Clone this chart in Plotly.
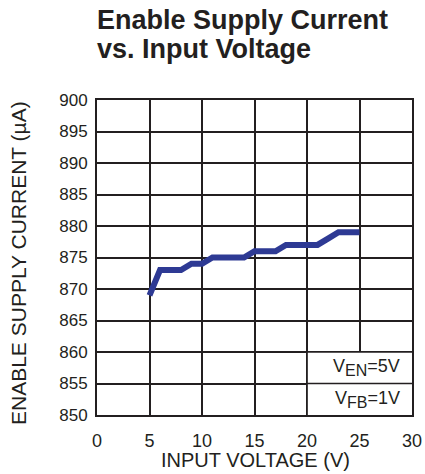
import plotly.graph_objects as go

# input voltage (V) and enable supply current (uA)
vin = [5, 6, 7, 8, 9, 10, 11, 12, 13, 14, 15, 16, 17, 18, 19, 20, 21, 22, 23, 24, 25]
i_en = [869, 873, 873, 873, 874, 874, 875, 875, 875, 875, 876, 876, 876,
        877, 877, 877, 877, 878, 879, 879, 879]

x_ticks = [0, 5, 10, 15, 20, 25, 30]
y_ticks = [850, 855, 860, 865, 870, 875, 880, 885, 890, 895, 900]

INK = '#231F20'
FONT = 'Liberation Sans, Arial, sans-serif'

W, H = 425, 474
L, R, T, B = 97, 13, 100, 59
pw, ph = W - L - R, H - T - B

fig = go.Figure(
    go.Scatter(
        x=vin, y=i_en,
        mode='lines',
        line=dict(color='#2E3A94', width=6),
        showlegend=False,
        hoverinfo='skip'
    )
)

# white patch behind the condition labels (hides part of the grid)
fig.add_shape(type='rect', x0=20.08, x1=30, y0=850, y1=859.9,
              xref='x', yref='y', layer='between',
              fillcolor='white', line_width=0)
fig.add_shape(type='line', x0=20, x1=30, y0=855, y1=855,
              xref='x', yref='y', layer='between',
              line=dict(color=INK, width=1.5))

sub = '<sub><span style="font-size:16px">{}</span></sub>'
fig.add_annotation(text='V' + sub.format('EN') + '=5V', x=29.05, y=857.5, xref='x', yref='y',
                   xanchor='right', yanchor='middle', showarrow=False,
                   font=dict(size=18, color=INK, family=FONT))
fig.add_annotation(text='V' + sub.format('FB') + '=1V', x=29.05, y=852.5, xref='x', yref='y',
                   xanchor='right', yanchor='middle', showarrow=False,
                   font=dict(size=18, color=INK, family=FONT))

# two-line bold title, placed by pixel baseline
for txt, base in [('<b>Enable Supply Current</b>', 28), ('<b>vs. Input Voltage</b>', 57)]:
    fig.add_annotation(text=txt, x=0, y=(H - B - base) / ph, xshift=-2,
                       xref='paper', yref='paper', xanchor='left', yanchor='bottom',
                       yshift=-9, showarrow=False,
                       font=dict(size=27, color=INK, family=FONT))

# axis titles
fig.add_annotation(text='INPUT VOLTAGE (V)', x=(255 - L) / pw, y=(H - B - 460) / ph,
                   xref='paper', yref='paper', xanchor='center', yanchor='middle',
                   showarrow=False, font=dict(size=20, color=INK, family=FONT))
fig.add_annotation(text='ENABLE SUPPLY CURRENT (µA)', x=(18 - L) / pw, y=(H - B - 263) / ph,
                   xref='paper', yref='paper', xanchor='center', yanchor='middle',
                   textangle=-90, showarrow=False,
                   font=dict(size=21, color=INK, family=FONT))

axis_common = dict(
    showgrid=True, gridcolor=INK, gridwidth=1.5,
    showline=True, linecolor=INK, linewidth=2, mirror=True,
    ticks='', zeroline=False, automargin=False,
)

fig.update_xaxes(range=[0, 30], tickvals=x_ticks, ticklabelstandoff=8,
                 tickfont=dict(size=18, color=INK, family=FONT),
                 **axis_common)
fig.update_yaxes(range=[850, 900], tickvals=y_ticks, ticklabelstandoff=4,
                 tickfont=dict(size=17, color=INK, family=FONT),
                 **axis_common)

fig.update_layout(
    width=W, height=H,
    margin=dict(l=L, r=R, t=T, b=B),
    paper_bgcolor='white',
    plot_bgcolor='white',
)

fig.write_html('out.html', config={'displayModeBar': False},
               post_script="document.body.style.margin='0';")
